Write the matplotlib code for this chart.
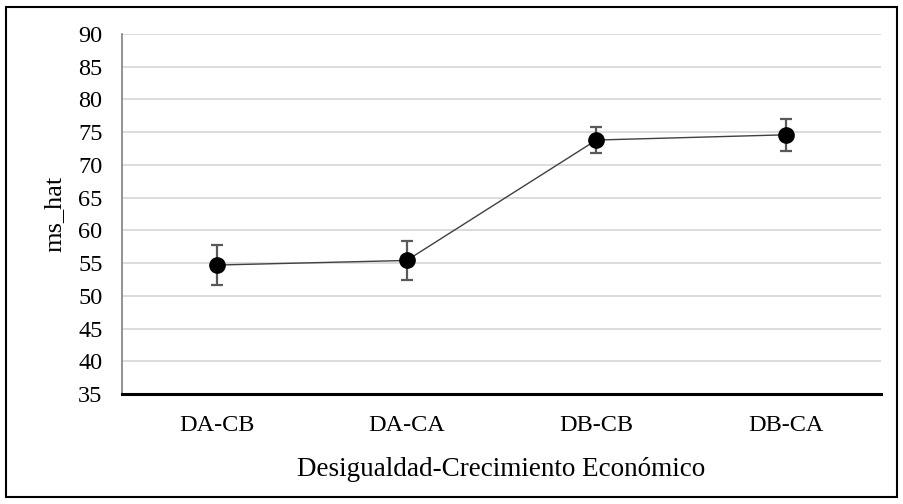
import matplotlib
matplotlib.use('Agg')
from matplotlib import pyplot as plt
from matplotlib.patches import Rectangle

categories = ["DA-CB", "DA-CA", "DB-CB", "DB-CA"]
ms_hat = [54.7, 55.4, 73.8, 74.6]
err = [3.1, 3.05, 1.95, 2.45]
y_ticks = list(range(35, 91, 5))

plt.rcParams['font.family'] = ['Liberation Serif', 'DejaVu Serif']

fig = plt.figure(figsize=(9.04, 5.04), dpi=100)
ax = fig.add_axes([122 / 904, 1 - 394 / 504, 759 / 904, 360 / 504])

x = range(len(categories))
ax.plot(x, ms_hat, color="#404040", lw=1.0, zorder=3)
ax.errorbar(x, ms_hat, yerr=err, fmt="none", ecolor="#595959",
            elinewidth=1.6, capsize=4.5, capthick=1.6, zorder=4)
ax.plot(x, ms_hat, "o", color="black", markersize=11, zorder=5)

ax.set_xlim(-0.5, 3.5)
ax.set_ylim(35, 90)
ax.set_yticks(y_ticks)
ax.set_xticks(list(x))
ax.set_xticklabels(categories)
ax.tick_params(length=0, labelsize=17.5)
ax.tick_params(axis="y", pad=14)
ax.tick_params(axis="x", pad=15)
ax.grid(axis="y", color="#d9d9d9", lw=1.3)
ax.set_axisbelow(True)

for s in ["top", "right"]:
    ax.spines[s].set_visible(False)
ax.spines["left"].set_color("#808080")
ax.spines["left"].set_linewidth(1.2)
ax.spines["bottom"].set_color("black")
ax.spines["bottom"].set_linewidth(2.2)

ax.set_xlabel("Desigualdad-Crecimiento Económico", fontsize=19.5, labelpad=15)
ax.set_ylabel("ms_hat", fontsize=19, labelpad=9)

fig.patches.append(Rectangle((6 / 904, 7 / 504), 891 / 904, 490 / 504,
                             transform=fig.transFigure, fill=False,
                             edgecolor="black", lw=1.5))

plt.savefig("out.png", dpi=100)
